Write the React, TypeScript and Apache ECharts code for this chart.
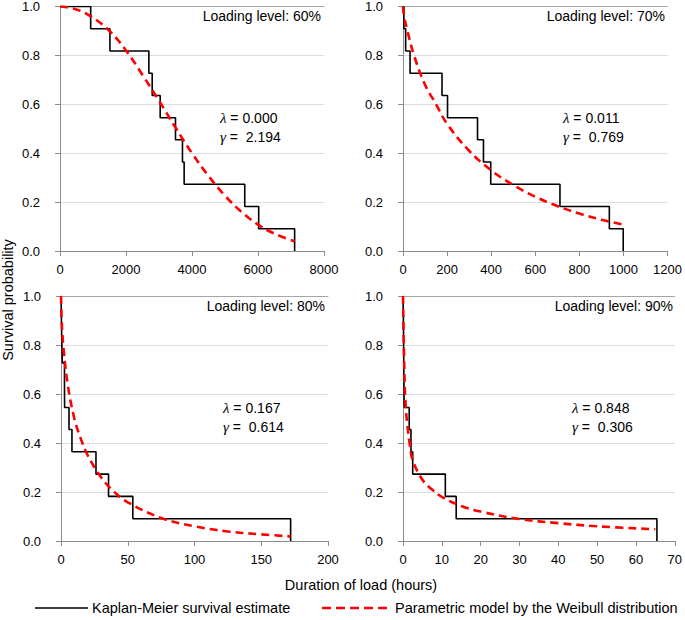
import React, { useEffect, useRef } from "react";
import * as echarts from "echarts";

// ---- Data ----
const kmSurvival = [1, 0.909, 0.818, 0.727, 0.636, 0.545, 0.455, 0.364, 0.273, 0.182, 0.091, 0];

const km60Times = [0, 930, 1513, 2693, 2794, 3036, 3500, 3711, 3762, 5598, 6021, 7110];
const km70Times = [0, 4, 12, 32, 177, 202, 338, 365, 398, 712, 936, 999];
const km80Times = [0, 0.3, 0.6, 1.0, 2.6, 2.7, 6, 8.2, 26.2, 35.6, 53.8, 172];
const km90Times = [0, 0.1, 0.15, 0.2, 0.25, 0.3, 1.6, 2.05, 2.5, 10.9, 13.7, 65.4];

const wb60Times = [0, 450, 930, 1500, 2000, 2500, 3000, 3500, 4000, 4500, 5000, 5500, 6000, 6500, 7110];
const wb60Surv = [1, 0.99, 0.96, 0.9, 0.82, 0.72, 0.615, 0.505, 0.4, 0.307, 0.226, 0.16, 0.108, 0.071, 0.04];
const wb70Times = [0, 2, 5, 20, 50, 100, 150, 200, 300, 400, 500, 600, 700, 800, 900, 1000];
const wb70Surv = [1, 0.98, 0.96, 0.9, 0.8, 0.68, 0.6, 0.52, 0.41, 0.33, 0.27, 0.222, 0.184, 0.153, 0.128, 0.108];
const wb80Times = [0, 0.5, 1, 2, 5, 10, 15, 20, 30, 40, 50, 75, 100, 125, 150, 172];
const wb80Surv = [1, 0.9, 0.85, 0.78, 0.64, 0.5, 0.415, 0.35, 0.26, 0.2, 0.158, 0.094, 0.06, 0.039, 0.027, 0.019];
const wb90Times = [0, 0.25, 0.7, 1.7, 2.5, 5, 7.5, 10, 15, 20, 30, 40, 50, 65];
const wb90Surv = [1, 0.77, 0.55, 0.4, 0.33, 0.25, 0.21, 0.18, 0.143, 0.12, 0.09, 0.073, 0.06, 0.048];

const loadingLevels = ["60%", "70%", "80%", "90%"];
const lambdas = ["0.000", "0.011", "0.167", "0.848"];
const gammas = ["2.194", "0.769", "0.614", "0.306"];
const xMaxes = [8000, 1200, 200, 70];
const xIntervals = [2000, 200, 50, 10];
const yMin = 0;
const yMax = 1;
const yInterval = 0.2;

const kmTimes = [km60Times, km70Times, km80Times, km90Times];
const wbTimes = [wb60Times, wb70Times, wb80Times, wb90Times];
const wbSurv = [wb60Surv, wb70Surv, wb80Surv, wb90Surv];

const legendKM = "Kaplan-Meier survival estimate";
const legendWB = "Parametric model by the Weibull distribution";
const xTitle = "Duration of load (hours)";
const yTitle = "Survival probability";

// ---- Layout ----
const grids = [
  { left: 60, top: 6, width: 264, height: 245 },
  { left: 403, top: 6, width: 265, height: 245 },
  { left: 61, top: 296, width: 267, height: 245 },
  { left: 403, top: 296, width: 273, height: 245 },
];
const paramPos = [
  { x: 220, y: 118 },
  { x: 563, y: 118 },
  { x: 223, y: 408 },
  { x: 572, y: 408 },
];
const FONT = "'Liberation Sans', Arial, Helvetica, sans-serif";
const AXIS_COLOR = "#8c8c8c";

export default function App() {
  const ref = useRef<HTMLDivElement>(null);

  useEffect(() => {
    document.body.style.margin = "0";
    if (!ref.current) return;
    const chart = echarts.init(ref.current, undefined, { renderer: "svg" });

    const xAxes: any[] = [];
    const yAxes: any[] = [];
    const series: any[] = [];
    const graphics: any[] = [];

    grids.forEach((g, i) => {
      xAxes.push({
        type: "value",
        gridIndex: i,
        min: 0,
        max: xMaxes[i],
        interval: xIntervals[i],
        axisLine: { show: true, onZero: false, lineStyle: { color: AXIS_COLOR, width: 1 } },
        axisTick: { show: true, length: 5, lineStyle: { color: AXIS_COLOR } },
        axisLabel: {
          color: "#000",
          fontSize: 13,
          fontFamily: FONT,
          margin: 12,
          formatter: (v: number) => String(v),
        },
        splitLine: { show: false },
      });
      xAxes.push({
        type: "value",
        gridIndex: i,
        position: "top",
        min: 0,
        max: xMaxes[i],
        axisLine: { show: true, onZero: false, lineStyle: { color: "#a6a6a6", width: 1 } },
        axisTick: { show: false },
        axisLabel: { show: false },
        splitLine: { show: false },
      });
      yAxes.push({
        type: "value",
        gridIndex: i,
        min: yMin,
        max: yMax,
        interval: yInterval,
        axisLine: { show: true, onZero: false, lineStyle: { color: AXIS_COLOR, width: 1 } },
        axisTick: { show: true, length: 5, lineStyle: { color: AXIS_COLOR } },
        axisLabel: {
          color: "#000",
          fontSize: 13,
          fontFamily: FONT,
          margin: 20,
          formatter: (v: number) => v.toFixed(1),
        },
        splitLine: { show: true, lineStyle: { color: "#dcdcdc", width: 1 } },
      });

      series.push({
        type: "line",
        name: legendKM,
        xAxisIndex: 2 * i,
        yAxisIndex: i,
        step: "end",
        symbol: "none",
        data: kmTimes[i].map((t, k) => [t, kmSurvival[k]]),
        lineStyle: { color: "#000", width: 1.6 },
        z: 3,
      });
      series.push({
        type: "line",
        name: legendWB,
        xAxisIndex: 2 * i,
        yAxisIndex: i,
        symbol: "none",
        smooth: 0.4,
        data: wbTimes[i].map((t, k) => [t, wbSurv[i][k]]),
        lineStyle: { color: "#ff0000", width: 2.6, type: [8, 5] },
        z: 4,
      });

      const right = g.left + g.width;
      graphics.push({
        type: "text",
        x: right - 3,
        y: g.top + 10,
        style: {
          text: "Loading level: " + loadingLevels[i],
          font: `14px ${FONT}`,
          fill: "#000",
          textAlign: "right",
          textVerticalAlign: "middle",
        },
        z: 11,
      });
      const rich = {
        g: { fontFamily: "'Liberation Serif', 'DejaVu Serif', serif", fontStyle: "italic", fontSize: 15, fill: "#000" },
        n: { fontFamily: FONT, fontSize: 14, fill: "#000" },
      };
      graphics.push({
        type: "text",
        x: paramPos[i].x,
        y: paramPos[i].y,
        style: {
          text: "{g|λ}{n| = " + lambdas[i] + "}",
          rich,
          textAlign: "left",
          textVerticalAlign: "middle",
        },
        z: 11,
      });
      graphics.push({
        type: "text",
        x: paramPos[i].x,
        y: paramPos[i].y + 19,
        style: {
          text: "{g|γ}{n| =  " + gammas[i] + "}",
          rich,
          textAlign: "left",
          textVerticalAlign: "middle",
        },
        z: 11,
      });
    });

    graphics.push({
      type: "text",
      x: 8,
      y: 300,
      rotation: Math.PI / 2,
      style: {
        text: yTitle,
        font: `14.5px ${FONT}`,
        fill: "#000",
        textAlign: "center",
        textVerticalAlign: "middle",
      },
    });
    graphics.push({
      type: "text",
      x: 361,
      y: 585,
      style: {
        text: xTitle,
        font: `14.5px ${FONT}`,
        fill: "#000",
        textAlign: "center",
        textVerticalAlign: "middle",
      },
    });
    graphics.push({
      type: "line",
      shape: { x1: 35, y1: 608, x2: 88, y2: 608 },
      style: { stroke: "#000", lineWidth: 1.6 },
    });
    graphics.push({
      type: "text",
      x: 92,
      y: 608,
      style: { text: legendKM, font: `14.5px ${FONT}`, fill: "#000", textAlign: "left", textVerticalAlign: "middle" },
    });
    graphics.push({
      type: "line",
      shape: { x1: 322, y1: 608, x2: 390, y2: 608 },
      style: { stroke: "#ff0000", lineWidth: 2.6, lineDash: [9, 5] },
    });
    graphics.push({
      type: "text",
      x: 395,
      y: 608,
      style: { text: legendWB, font: `14.5px ${FONT}`, fill: "#000", textAlign: "left", textVerticalAlign: "middle" },
    });

    chart.setOption({
      animation: false,
      backgroundColor: "#fff",
      textStyle: { fontFamily: FONT },
      grid: grids.map((g) => ({ ...g, containLabel: false })),
      xAxis: xAxes,
      yAxis: yAxes,
      series,
      graphic: graphics,
    });

    return () => chart.dispose();
  }, []);

  return <div ref={ref} style={{ width: 685, height: 620 }} />;
}
